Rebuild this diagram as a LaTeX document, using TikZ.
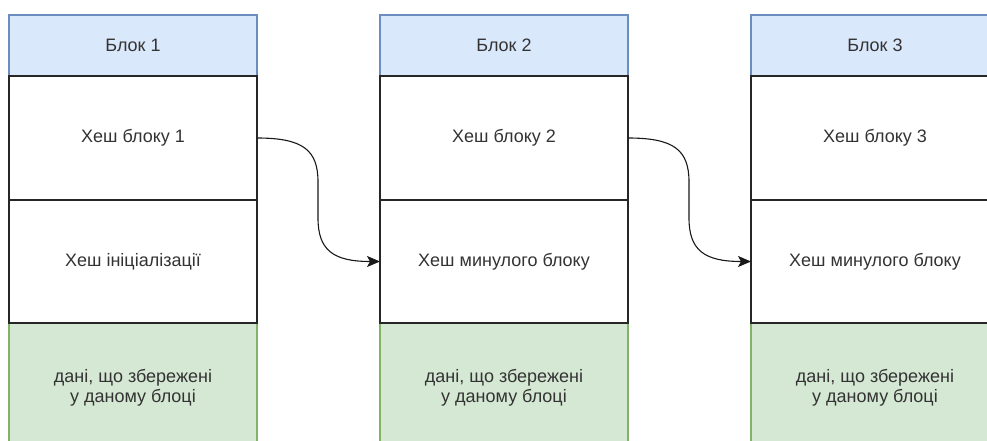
\documentclass[tikz,border=0pt]{standalone}
\usepackage{fontspec}
\setmainfont{Liberation Sans}
\usetikzlibrary{arrows.meta}

\definecolor{headfill}{HTML}{DAE8FC}
\definecolor{headline}{HTML}{6C8EBF}
\definecolor{datafill}{HTML}{D5E8D4}
\definecolor{dataline}{HTML}{82B366}
\definecolor{txt}{HTML}{333333}

\tikzset{
  cell/.style={rectangle, inner sep=0pt, outer sep=0pt, minimum width=248pt,
    line width=1.1pt, font=\fontsize{18pt}{20pt}\selectfont, text=txt, align=center},
  headcell/.style={cell, draw=headline, fill=headfill, minimum height=61pt},
  hashcell/.style={cell, draw=black!85, fill=white, minimum height=124pt},
  prevcell/.style={cell, draw=black!85, fill=white, minimum height=123pt},
  datacell/.style={cell, draw=dataline, fill=datafill, minimum height=124pt},
  link/.style={line width=1.1pt, draw=black!90, -{Stealth[length=13pt,width=11pt,inset=3pt]}}
}

\begin{document}
\begin{tikzpicture}[x=1pt, y=-1pt]
  \clip (0,0) rectangle (987,441);
  \fill[white] (0,0) rectangle (987,441);

  % three chained blocks: header, own hash, previous hash, stored data
  \foreach \i/\cx/\prev in {1/133/{Хеш ініціалізації}, 2/504/{Хеш минулого блоку}, 3/875/{Хеш минулого блоку}} {
    \node[headcell] (h\i) at (\cx,45.5) {Блок \i};
    \node[datacell] (d\i) at (\cx,385) {};
    \node[hashcell] (k\i) at (\cx,138) {Хеш блоку \i};
    \node[prevcell] (p\i) at (\cx,261.5) {\prev};
    \node[cell, text=txt] (t\i) at (\cx,388) {дані, що збережені\\у даному блоці};
  }

  % each block's hash is referenced by the next block
  \draw[link] (k1.east) .. controls (303,138) and (318,150) .. (318,182)
    -- (318,218) .. controls (318,250) and (333,261.5) .. (p2.west);
  \draw[link] (k2.east) .. controls (674,138) and (689,150) .. (689,182)
    -- (689,218) .. controls (689,250) and (704,261.5) .. (p3.west);
\end{tikzpicture}
\end{document}
